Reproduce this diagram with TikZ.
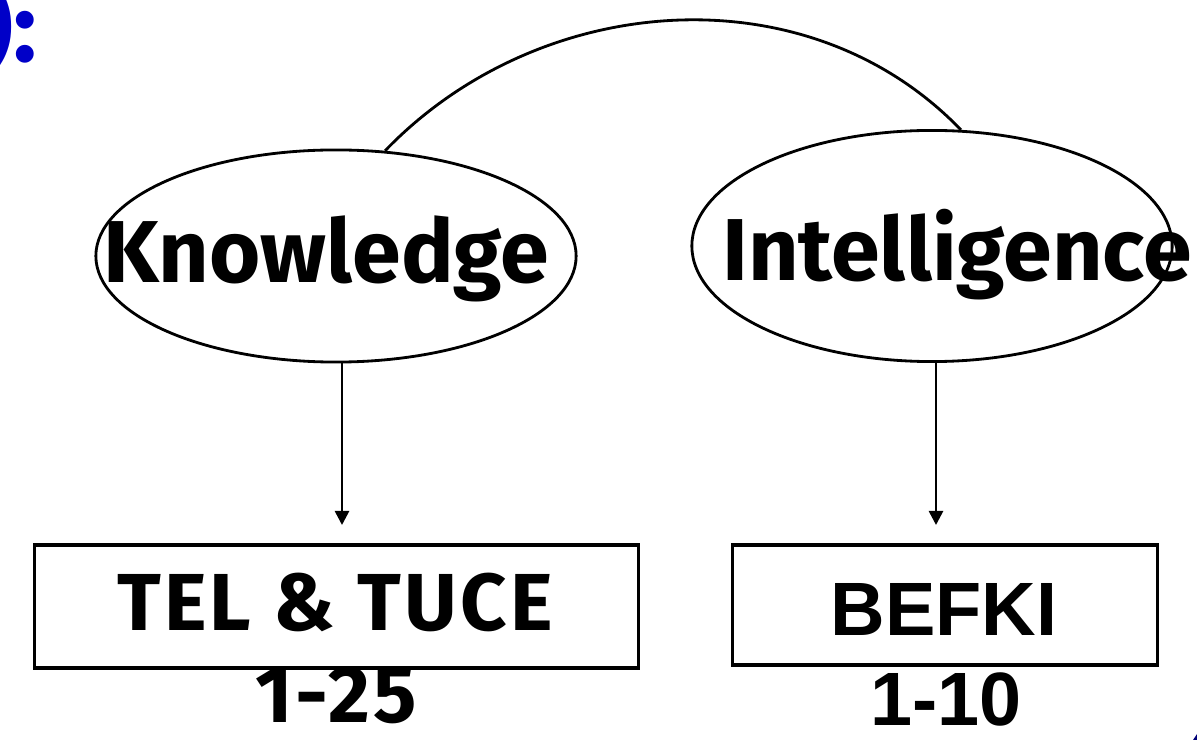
\documentclass[tikz,border=0pt]{standalone}
\usepackage{fontspec}
\newfontfamily\fira{Fira Sans}
\newfontfamily\firawide{Fira Sans}[LetterSpace=4]
\newfontfamily\arial{Liberation Sans}
\usetikzlibrary{arrows.meta,shapes.geometric}
\definecolor{titleblue}{RGB}{0,0,200}
\tikzset{
  oval/.style={draw, ellipse, line width=0.8pt, minimum width=4.8cm, inner sep=0pt},
  scorebox/.style={draw, rectangle, line width=0.9pt, inner sep=0pt},
  bigword/.style={anchor=base, inner sep=0pt, font=\fira\bfseries\fontsize{25}{30}\selectfont},
  testword/.style={anchor=base, inner sep=0pt, font=\firawide\bfseries\fontsize{23}{27}\selectfont},
  arialword/.style={anchor=base, inner sep=0pt, font=\arial\bfseries\fontsize{21.5}{26}\selectfont},
  arr/.style={line width=0.75pt, -{Triangle[width=0.14cm,length=0.14cm]}}
}
\begin{document}
\begin{tikzpicture}[x=0.01cm, y=-0.01cm]
\useasboundingbox (0,0) rectangle (1197,740);
% title, cut off at the left
\node[anchor=base east, inner sep=0pt, text=titleblue, font=\fira\bfseries\fontsize{28}{32}\selectfont] (title) at (38,62) {):};

\node[oval, minimum height=2.12cm] (know) at (336,256) {};
\node[oval, minimum height=2.31cm] (intel) at (932,246) {};
\node[bigword] (knowtext) at (326,283) {Knowledge};
\node[bigword] (inteltext) at (957,281) {Intelligence};

\draw[line width=0.8pt] (know.65) .. controls +(154,-160) and +(-154,-160) .. (intel.76);

\node[scorebox, minimum width=6.03cm, minimum height=1.23cm] (tel) at (336.5,606.5) {};
\node[scorebox, minimum width=4.24cm, minimum height=1.20cm] (befki) at (945,605) {};
\node[testword] (teltext) at (335,630) {TEL \& TUCE};
\node[testword] (telrange) at (336,722) {1-25};
\node[arialword] (befkitext) at (944,635) {BEFKI};
\node[arialword] (befkirange) at (946,725) {1-10};

\coordinate (kdrop) at (342,525);
\coordinate (idrop) at (936,525);
\draw[arr] (know.south -| kdrop) -- (kdrop);
\draw[arr] (intel.south -| idrop) -- (idrop);

%\draw [fill=titleblue] (1195,738) circle (2);
\fill[titleblue!60!black] (1193,740) -- (1197,734) -- (1197,740) -- cycle;
\end{tikzpicture}
\end{document}
